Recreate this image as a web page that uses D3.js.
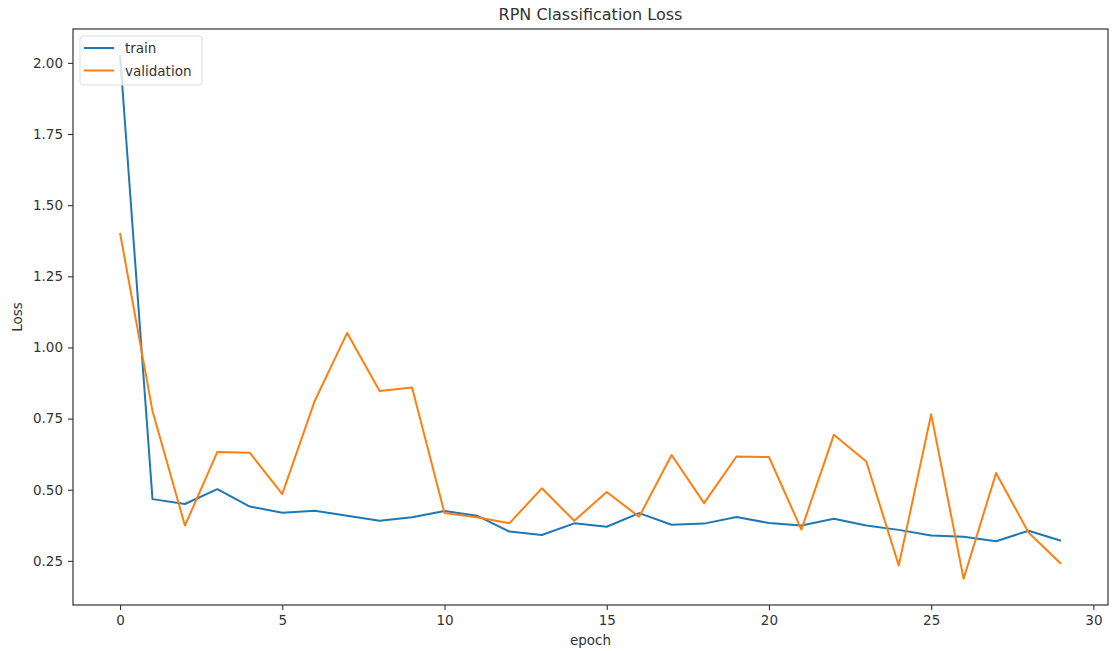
<!DOCTYPE html>
<html>
<head>
<meta charset="utf-8">
<script src="https://cdn.jsdelivr.net/npm/d3@7"></script>
<style>
  body { margin: 0; background: #fff; }
  text { font-family: "DejaVu Sans", sans-serif; fill: #333; }
</style>
</head>
<body>
<div id="chart"></div>
<script>
// epochs 0..29
const epochs = d3.range(0, 30);

// Loss values
const trainLoss = [2.027, 0.467, 0.450, 0.502, 0.441, 0.419, 0.426, 0.409, 0.391, 0.403,
                   0.425, 0.409, 0.353, 0.341, 0.382, 0.370, 0.418, 0.377, 0.381, 0.404,
                   0.383, 0.374, 0.398, 0.374, 0.359, 0.339, 0.335, 0.319, 0.356, 0.321];
const validationLoss = [1.402, 0.777, 0.374, 0.633, 0.630, 0.485, 0.812, 1.051, 0.847, 0.859,
                        0.418, 0.403, 0.382, 0.505, 0.391, 0.492, 0.405, 0.622, 0.453, 0.617,
                        0.615, 0.360, 0.693, 0.599, 0.234, 0.765, 0.187, 0.559, 0.350, 0.240];

const xTicks = [0, 5, 10, 15, 20, 25, 30];
const yTicks = [0.25, 0.50, 0.75, 1.00, 1.25, 1.50, 1.75, 2.00];

const seriesNames = ["train", "validation"];
const seriesColors = ["#1f77b4", "#ff7f0e"];

var width = 1113;
var height = 651;
var margin = { top: 29, right: 5, bottom: 46, left: 73 };

var svg = d3.select("#chart")
    .append("svg")
    .attr("width", width)
    .attr("height", height);

// matplotlib style 5% padding around the data
var xMin = d3.min(epochs), xMax = d3.max(epochs);
var xPad = (xMax - xMin) * 0.05;
var allY = trainLoss.concat(validationLoss);
var yMin = d3.min(allY), yMax = d3.max(allY);
var yPad = (yMax - yMin) * 0.05;

var x = d3.scaleLinear()
    .domain([xMin - xPad, xMax + xPad])
    .range([margin.left, width - margin.right]);

var y = d3.scaleLinear()
    .domain([yMin - yPad, yMax + yPad])
    .range([height - margin.bottom, margin.top]);

// axes
var xAxis = svg.append("g")
    .attr("transform", "translate(0," + (height - margin.bottom) + ")")
    .call(d3.axisBottom(x).tickValues(xTicks).tickFormat(d3.format("d")).tickSize(5).tickPadding(5));

var yAxis = svg.append("g")
    .attr("transform", "translate(" + margin.left + ",0)")
    .call(d3.axisLeft(y).tickValues(yTicks).tickFormat(d3.format(".2f")).tickSize(5).tickPadding(5));

[xAxis, yAxis].forEach(function (ax) {
    ax.select(".domain").remove();
    ax.selectAll(".tick line").attr("stroke", "#333").attr("stroke-width", 1.1);
    ax.selectAll(".tick text")
        .style("font-family", "DejaVu Sans, sans-serif")
        .style("font-size", "13.5px")
        .attr("fill", "#333");
});

// frame
svg.append("rect")
    .attr("x", margin.left)
    .attr("y", margin.top)
    .attr("width", width - margin.left - margin.right)
    .attr("height", height - margin.top - margin.bottom)
    .attr("fill", "none")
    .attr("stroke", "#333")
    .attr("stroke-width", 1.2);

// lines
var line = d3.line()
    .x(function (d, i) { return x(epochs[i]); })
    .y(function (d) { return y(d); });

[trainLoss, validationLoss].forEach(function (series, i) {
    svg.append("path")
        .datum(series)
        .attr("d", line)
        .attr("fill", "none")
        .attr("stroke", seriesColors[i])
        .attr("stroke-width", 2)
        .attr("stroke-linejoin", "round");
});

// title and labels
svg.append("text")
    .attr("x", (margin.left + width - margin.right) / 2)
    .attr("y", 20)
    .attr("text-anchor", "middle")
    .style("font-size", "16px")
    .text("RPN Classification Loss");

svg.append("text")
    .attr("x", (margin.left + width - margin.right) / 2)
    .attr("y", 645)
    .attr("text-anchor", "middle")
    .style("font-size", "13.5px")
    .text("epoch");

svg.append("text")
    .attr("transform", "translate(22,317) rotate(-90)")
    .attr("text-anchor", "middle")
    .style("font-size", "13.5px")
    .text("Loss");

// legend
var legend = svg.append("g");
legend.append("rect")
    .attr("x", 80)
    .attr("y", 36)
    .attr("width", 122)
    .attr("height", 49)
    .attr("rx", 3)
    .attr("fill", "#fff")
    .attr("fill-opacity", 0.8)
    .attr("stroke", "#ddd");

seriesNames.forEach(function (name, i) {
    var ly = 48 + i * 22.5;
    legend.append("line")
        .attr("x1", 84).attr("x2", 114)
        .attr("y1", ly).attr("y2", ly)
        .attr("stroke", seriesColors[i])
        .attr("stroke-width", 2);
    legend.append("text")
        .attr("x", 125)
        .attr("y", ly + 5)
        .style("font-size", "13.5px")
        .text(name);
});
</script>
</body>
</html>
